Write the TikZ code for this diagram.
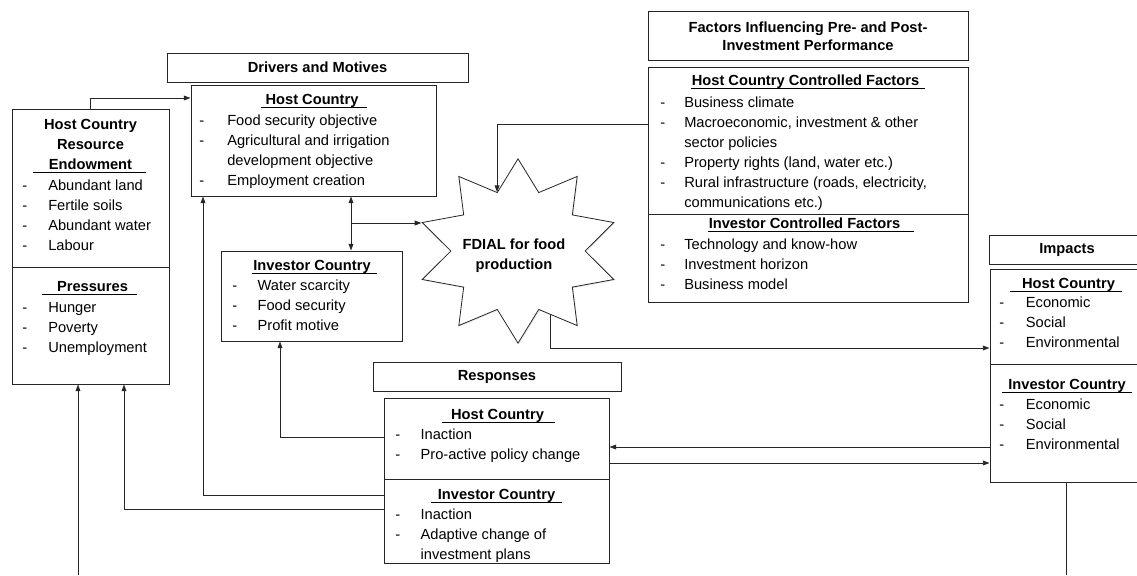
\documentclass[tikz,border=0pt]{standalone}
\usepackage{fontspec}
\setmainfont{Liberation Sans}
\usetikzlibrary{arrows.meta,shapes.geometric,fit,calc,shadows}
\newcommand\tb[2]{\begin{tabular}[t]{@{}#1@{}}#2\end{tabular}}
\newcommand\ult[3]{\setbox0\hbox{#2}\llap{\rule[-2.6pt]{#1}{0.6pt}}\rlap{\rule[-2.6pt]{\dimexpr\wd0+#3\relax}{0.6pt}}\box0}
\newcommand\dd[2]{\makebox[#1][l]{-}#2}
\newcommand\dc[2]{\makebox[#1]{}#2}
\begin{document}
\begin{tikzpicture}[x=0.75pt,y=-0.75pt,
  every node/.style={font=\fontsize{11}{15}\selectfont},
  box/.style={draw=black!85, line width=0.75pt, inner sep=0pt},
  divl/.style={draw=black!85, line width=0.75pt},
  txt/.style={anchor=base west, inner sep=0pt},
  ttl/.style={anchor=base, inner sep=0pt, font=\fontsize{11}{15}\selectfont\bfseries},
  conn/.style={draw=black!85, line width=0.6pt},
  arr/.style={conn, -{Triangle[length=5pt,width=3.6pt]}},
  darr/.style={conn, {Triangle[length=5pt,width=3.6pt]}-{Triangle[length=5pt,width=3.6pt]}}]
\useasboundingbox (0,0) rectangle (1137,575);
\clip (0,0) rectangle (1137,575);

% ---------- boxes ----------
\node[box, fit={(12,109) (169,384)}] (lb) {};
\draw[divl] (lb.west |- 0,267) -- (lb.east |- 0,267);

\node[box, fit={(167,53) (468,82)}] (dmh) {};
\node[box, fit={(191,85) (436,196)}] (dh) {};
\node[box, fit={(221,251) (402,341)}] (di) {};

\node[box, fit={(648,11) (968,60)}] (fh) {};
\node[box, fit={(648,67) (968,302)}] (fb) {};
\draw[divl] (fb.west |- 0,214) -- (fb.east |- 0,214);

\node[box, fit={(373,362) (621,391)}] (rh) {};
\node[box, fit={(384,398) (609,563)}] (rb) {};
\draw[divl] (rb.west |- 0,479) -- (rb.east |- 0,479);

\node[box, fit={(989,235) (1145,264)}] (ih) {};
\node[box, fit={(990,269) (1142,482)}] (ib) {};
\draw[divl] (ib.west |- 0,364) -- (ib.east |- 0,364);

\begin{scope}[shift={(518,251)}]
\node[draw=black!85, fill=white, star, star points=10, star point ratio=1.5,
      minimum size=142.5pt, inner sep=0pt, line width=0.6pt,
      xscale=1.06, yscale=0.97, transform shape,
      drop shadow={opacity=0.18, shadow xshift=0.8pt, shadow yshift=-0.8pt}] (fd) at (0,0) {};
\end{scope}
\node[ttl, anchor=center, align=center] (fdt) at (514,256) {FDIAL for food\\production};

% ---------- texts ----------
\node[ttl] (lbt) at (90.5,129) {\tb{c}{Host Country\\Resource\\\ult{12pt}{Endowment}{10.5pt}}};
\node[txt] (lbi) at (22,190) {\tb{l}{\dd{19.5pt}{Abundant land}\\\dd{19.5pt}{Fertile soils}\\\dd{19.5pt}{Abundant water}\\\dd{19.5pt}{Labour}}};
\node[ttl] (lpt) at (92.5,291) {\ult{11pt}{Pressures}{7pt}};
\node[txt] (lpi) at (22,312) {\tb{l}{\dd{19.5pt}{Hunger}\\\dd{19.5pt}{Poverty}\\\dd{19.5pt}{Unemployment}}};

\node[ttl, anchor=center] (dmht) at (dmh.center) {Drivers and Motives};
\node[ttl] (dht) at (312,104) {\ult{3.75pt}{Host Country}{6.75pt}};
\node[txt] (dhi) at (199,125) {\tb{l}{\dd{21pt}{Food security objective}\\\dd{21pt}{Agricultural and irrigation}\\\dc{21pt}{development objective}\\\dd{21pt}{Employment creation}}};

\node[ttl] (dit) at (312,270) {\ult{0.75pt}{Investor Country}{4.5pt}};
\node[txt] (dii) at (232,290) {\tb{l}{\dd{19pt}{Water scarcity}\\\dd{19pt}{Food security}\\\dd{19pt}{Profit motive}}};

\node[ttl, font=\fontsize{11}{13.5}\selectfont\bfseries] (fht) at (808,32) {\tb{c}{Factors Influencing Pre- and Post-\\Investment Performance}};
\node[ttl] (fbt1) at (805.5,85) {\ult{0.75pt}{Host Country Controlled Factors}{4.5pt}};
\node[txt] (fbi1) at (660,107) {\tb{l}{\dd{18pt}{Business climate}\\\dd{18pt}{Macroeconomic, investment \& other}\\\dc{18pt}{sector policies}\\\dd{18pt}{Property rights (land, water etc.)}\\\dd{18pt}{Rural infrastructure (roads, electricity,}\\\dc{18pt}{communications etc.)}}};
\node[ttl] (fbt2) at (804.5,228) {\ult{0.75pt}{Investor Controlled Factors}{10pt}};
\node[txt] (fbi2) at (660,249) {\tb{l}{\dd{18pt}{Technology and know-how}\\\dd{18pt}{Investment horizon}\\\dd{18pt}{Business model}}};

\node[ttl, anchor=center] (rht) at (rh.center) {Responses};
\node[ttl] (rbt1) at (497.5,419) {\ult{7pt}{Host Country}{8pt}};
\node[txt] (rbi1) at (395,439) {\tb{l}{\dd{19pt}{Inaction}\\\dd{19pt}{Pro-active policy change}}};
\node[ttl] (rbt2) at (496.5,499) {\ult{5pt}{Investor Country}{5pt}};
\node[txt] (rbi2) at (395,519) {\tb{l}{\dd{19pt}{Inaction}\\\dd{19pt}{Adaptive change of}\\\dc{19pt}{investment plans}}};

\node[ttl, anchor=center] (iht) at (ih.center) {Impacts};
\node[ttl] (ibt1) at (1068.5,288) {\ult{9pt}{Host Country}{5pt}};
\node[txt] (ibi1) at (999,307) {\tb{l}{\dd{20pt}{Economic}\\\dd{20pt}{Social}\\\dd{20pt}{Environmental}}};
\node[ttl] (ibt2) at (1067,389) {\ult{4.5pt}{Investor Country}{4.5pt}};
\node[txt] (ibi2) at (999,409) {\tb{l}{\dd{20pt}{Economic}\\\dd{20pt}{Social}\\\dd{20pt}{Environmental}}};

% ---------- connectors ----------
\draw[arr] (lb.north) |- (dh.west |- 0,98);
\draw[darr] (dh.south -| 351,0) -- (di.north -| 351,0);
\coordinate (j1) at (351,223);
\draw[arr] (j1) -- (j1 -| fd.outer point 3);
\draw[arr] (fb.west |- 0,124) -| (fd.inner point 1);
\coordinate (s1) at ($(fd.inner point 6)!0.29!(fd.outer point 7)$);
\draw[arr] (s1) |- (ib.west |- 0,348);
\draw[arr] (rb.west |- 0,437) -| (di.south -| 280,0);
\draw[arr] (rb.west |- 0,495) -| (dh.south -| 203,0);
\draw[arr] (rb.west |- 0,509) -| (lb.south -| 124,0);
\coordinate (b1) at (78,575);
\draw[arr] (b1) -- (lb.south -| b1);
\draw[arr] (ib.west |- 0,447) -- (rb.east |- 0,447);
\draw[arr] (rb.east |- 0,463) -- (ib.west |- 0,463);
\coordinate (b2) at (1066,575);
\draw[conn] (ib.south -| b2) -- (b2);
\end{tikzpicture}
\end{document}
